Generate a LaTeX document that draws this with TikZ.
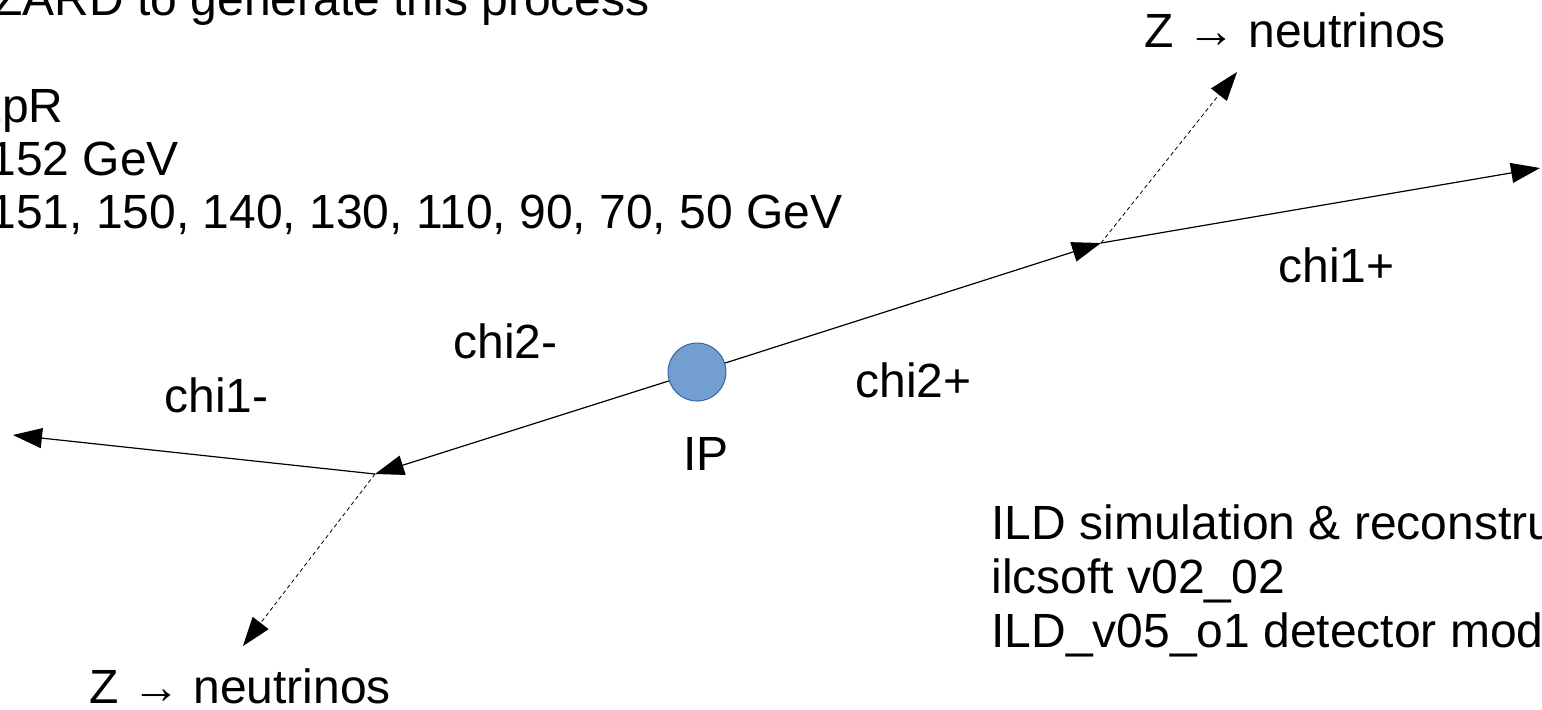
\documentclass[tikz,border=0pt]{standalone}
\usepackage{fontspec}
\setmainfont{Liberation Sans}
\usetikzlibrary{arrows.meta}
\definecolor{ipblue}{RGB}{114, 159, 207}
\definecolor{ipedge}{RGB}{52, 101, 164}

\tikzset{
    lbl/.style={anchor=base west, inner sep=0pt, font=\fontsize{24}{27}\selectfont},
    track/.style={line width=0.6pt, -{Triangle[length=14.5pt, width=10pt]}},
    zline/.style={line width=0.4pt, dash pattern=on 2pt off 1.5pt, -{Triangle[length=14.5pt, width=10pt]}}
}

\begin{document}
\begin{tikzpicture}[x=0.5pt, y=-0.5pt]
            % Page frame (text runs off both sides)
            \useasboundingbox (0, 0) rectangle (1542, 709);
            \clip             (0, 0) rectangle (1542, 709);
            % Interaction point & decay vertices
            \node[circle, fill=ipblue, draw=ipedge, line width=0.5pt, minimum size=29pt, inner sep=0pt] (ip) at (697, 372) {};
            \coordinate (vtxR) at (1101, 243);
            \coordinate (vtxL) at ( 375, 474);
            \coordinate (endR) at (1540, 168);
            \coordinate (endL) at (  13, 435);
            \coordinate (zR)   at (1237,  72);
            \coordinate (zL)   at ( 243, 646);
            % Charginos
            \draw[track] (ip)   -- (vtxR);
            \draw[track] (ip)   -- (vtxL);
            \draw[track] (vtxR) -- (endR);
            \draw[track] (vtxL) -- (endL);
            % Z decays
            \draw[zline] (vtxR) -- (zR);
            \draw[zline] (vtxL) -- (zL);
            % Generator settings
            \node[lbl] (gen)   at ( -7,  15) {ZARD to generate this process};
            \node[lbl] (pol)   at (-25, 122) {LpR};
            \node[lbl] (mchi2) at (-11, 175) {152 GeV};
            \node[lbl] (mchi1) at (-11, 228) {151, 150, 140, 130, 110, 90, 70, 50 GeV};
            % Particle labels
            \node[lbl] (zupper) at (1144,  47) {Z → neutrinos};
            \node[lbl] (c1p)    at (1278, 282) {chi1+};
            \node[lbl] (c2m)    at ( 453, 358) {chi2-};
            \node[lbl] (c2p)    at ( 855, 397) {chi2+};
            \node[lbl] (c1m)    at ( 164, 412) {chi1-};
            \node[lbl] (iplbl)  at ( 683, 470) {IP};
            \node[lbl] (zlower) at (  89, 703) {Z → neutrinos};
            % Software
            \node[lbl] (sim)  at (991, 539) {ILD simulation \& reconstru};
            \node[lbl] (soft) at (991, 593) {ilcsoft v02\_02};
            \node[lbl] (det)  at (991, 647) {ILD\_v05\_o1 detector mod};
\end{tikzpicture}
\end{document}
